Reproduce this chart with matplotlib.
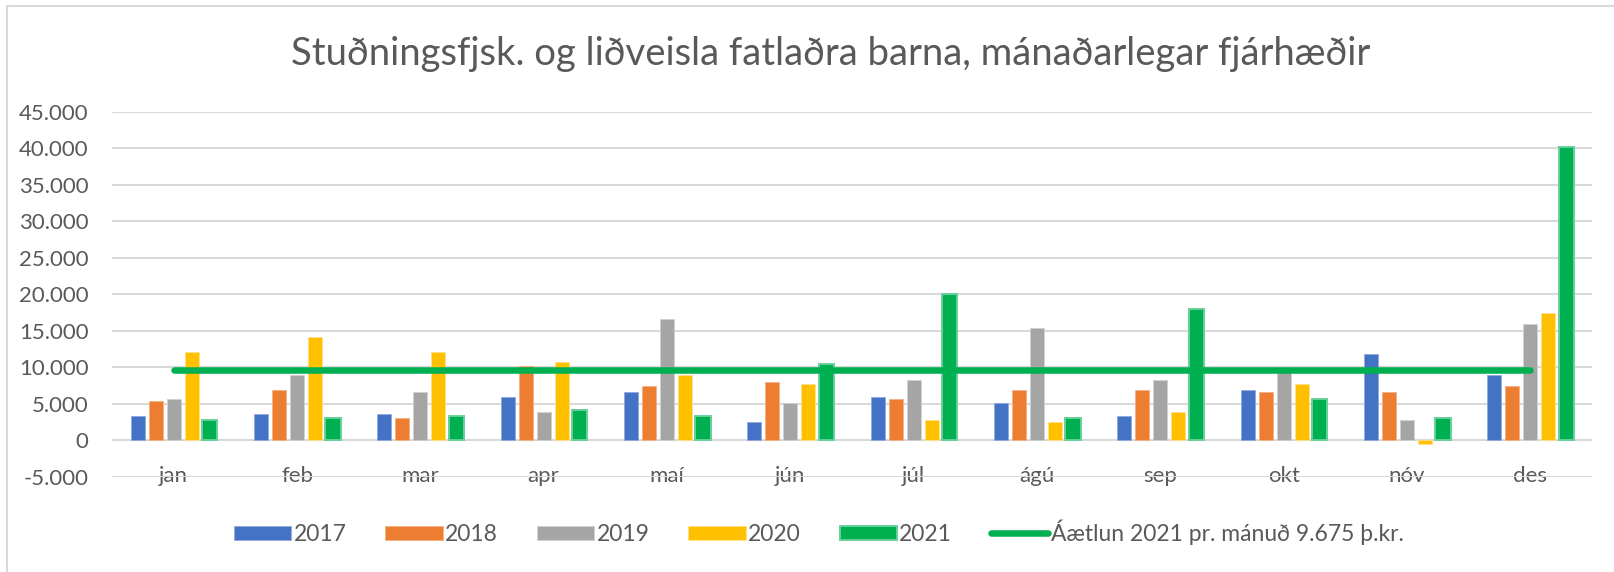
import matplotlib
matplotlib.use("Agg")
import matplotlib.pyplot as plt
from matplotlib.ticker import FuncFormatter, FixedLocator
from matplotlib.patches import Rectangle
import numpy as np

months = ["jan", "feb", "mar", "apr", "maí", "jún", "júl", "ágú", "sep", "okt", "nóv", "des"]
y2017 = [3330, 3650, 3650, 5970, 6570, 2460, 5970, 5110, 3330, 6890, 11860, 8940]
y2018 = [5380, 6890, 3010, 10200, 7480, 8030, 5700, 6890, 6890, 6570, 6570, 7480]
y2019 = [5700, 8940, 6570, 3920, 16600, 5110, 8340, 15410, 8340, 9500, 2740, 16000]
y2020 = [12130, 14230, 12130, 10720, 8940, 7750, 2740, 2460, 3920, 7750, -460, 17460]
y2021 = [2740, 3010, 3330, 4200, 3330, 10400, 20100, 3010, 18060, 5700, 3010, 40130]
budget = 9675
series_names = ["2017", "2018", "2019", "2020", "2021"]
line_label = "Áætlun 2021 pr. mánuð 9.675 þ.kr."
title = "Stuðningsfjsk. og liðveisla fatlaðra barna, mánaðarlegar fjárhæðir"
yticks = [-5000, 0, 5000, 10000, 15000, 20000, 25000, 30000, 35000, 40000, 45000]

colors = ["#4472C4", "#ED7D31", "#A5A5A5", "#FFC000", "#00B050"]
edges = ["#8fa9dc", "#f4b183", "#d0d0d0", "#ffe08a", "#66d09a"]
text_col = "#595959"
grid_col = "#D9D9D9"

plt.rcParams['font.family'] = ['Lato', 'DejaVu Sans']

W, H = 1614, 572
fig = plt.figure(figsize=(W / 100, H / 100), dpi=100)
ax_h = 477 - 111.7
ax = fig.add_axes([112 / W, 1 - 477 / H, (1592 - 112) / W, ax_h / H])

x = np.arange(len(months))
pitch = 0.146
bw = 0.116
data = [y2017, y2018, y2019, y2020, y2021]
handles = []
for i, (vals, c, e, name) in enumerate(zip(data, colors, edges, series_names)):
    lw = 1.4 if i == 4 else 0.6
    w = bw + (0.006 if i == 4 else 0)
    b = ax.bar(x + (i - 2) * pitch, vals, width=w, color=c, edgecolor=e,
               linewidth=lw, label=name, zorder=2)
    handles.append(b)

ln, = ax.plot(x, [budget] * len(x), color="#00B050", lw=4.7,
              solid_capstyle="round", zorder=3, label=line_label)
handles.append(ln)

ax.set_xlim(-0.5, len(months) - 0.5)
ax.set_ylim(-5000, 45000)
ax.yaxis.set_major_locator(FixedLocator(yticks))
ax.yaxis.set_major_formatter(FuncFormatter(lambda v, p: f"{int(v):,}".replace(",", ".")))
ax.grid(axis="y", color=grid_col, lw=1.5, zorder=0)
ax.set_axisbelow(True)
for s in ax.spines.values():
    s.set_visible(False)
ax.set_xticks(x)
ax.set_xticklabels(months)
ax.tick_params(axis="y", length=0, pad=17, labelsize=16, labelcolor=text_col)
ax.tick_params(axis="x", length=0, pad=-1, labelsize=16, labelcolor=text_col)
for lab in ax.get_xticklabels():
    lab.set_va("center")

fig.text(831 / W, 1 - 65 / H, title, ha="center", va="baseline",
         fontsize=27.5, color=text_col)

leg = ax.legend(handles=handles, labels=series_names + [line_label],
                loc="center left",
                bbox_to_anchor=((234 - 112) / (1592 - 112), (477 - 532) / ax_h),
                ncol=6, frameon=False, fontsize=16.5, labelcolor=text_col,
                handlelength=2.5, handleheight=0.58, handletextpad=0.1,
                columnspacing=1.7, borderaxespad=0, borderpad=0)

fig.add_artist(Rectangle((7 / W, -0.1), 1.2, 1 - 6 / H + 0.1,
                         transform=fig.transFigure, fill=False,
                         edgecolor=grid_col, lw=1.5))

fig.savefig("out.png", dpi=100)
